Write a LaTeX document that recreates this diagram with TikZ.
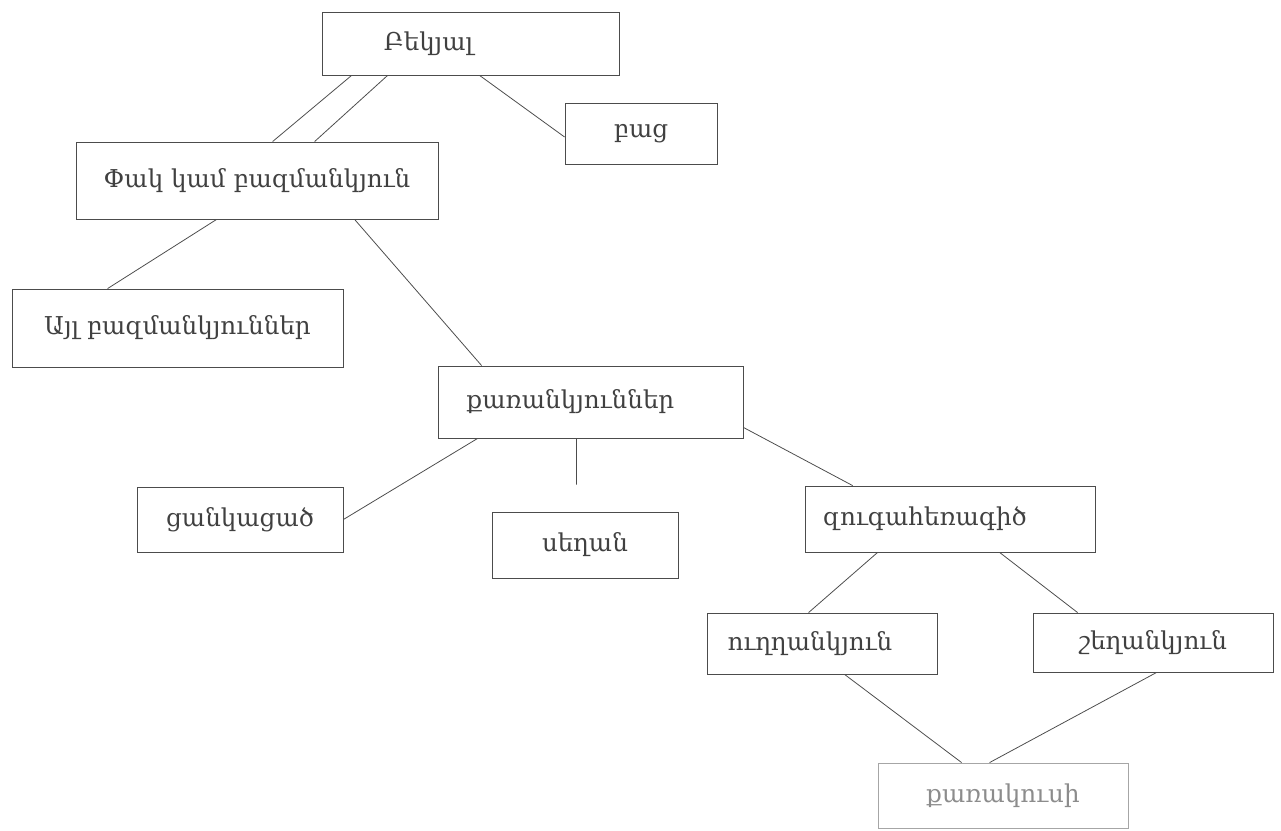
\documentclass[tikz,border=0pt]{standalone}
\usepackage{fontspec}
\setmainfont{DejaVu Serif}
\usetikzlibrary{calc}

\tikzset{
  box/.style={draw=black!70, line width=0.5pt, inner sep=0pt, text=black!75,
    font=\fontsize{14}{17}\selectfont},
  link/.style={draw=black!70, line width=0.45pt}
}

\begin{document}
\begin{tikzpicture}[x=0.02cm, y=-0.02cm]
    \useasboundingbox (0,0) rectangle (1281,831);

    % top level
    \node[box, minimum width=5.94cm, minimum height=1.26cm] (bek) at (470.5,43.5) {\hspace*{-1.68cm}Բեկյալ};
    \node[box, minimum width=3.04cm, minimum height=1.22cm] (bac) at (641,133.5) {բաց};
    \node[box, minimum width=7.24cm, minimum height=1.54cm] (pak) at (257,180.5) {Փակ կամ բազմանկյուն};

    % polygons
    \node[box, minimum width=6.62cm, minimum height=1.56cm] (ayl) at (177.5,328) {Այլ բազմանկյուններ};
    \node[box, minimum width=6.10cm, minimum height=1.44cm] (qar) at (590.5,402) {\hspace*{-0.8cm}քառանկյուններ};

    % quadrilaterals
    \node[box, minimum width=4.12cm, minimum height=1.30cm] (cank) at (240,519.5) {ցանկացած};
    \node[box, minimum width=3.72cm, minimum height=1.32cm] (segh) at (585,545) {սեղան};
    \node[box, minimum width=5.80cm, minimum height=1.32cm] (zug) at (950,519) {\hspace*{-1.0cm}զուգահեռագիծ};

    % parallelograms
    \node[box, minimum width=4.60cm, minimum height=1.22cm] (ugh) at (822,643.5) {\hspace*{-0.48cm}ուղղանկյուն};
    \node[box, minimum width=4.80cm, minimum height=1.18cm] (shegh) at (1153,642.5) {շեղանկյուն};
    \node[box, draw=black!35, text=black!45, minimum width=5.00cm, minimum height=1.30cm] (qarak) at (1003,795.5) {քառակուսի};

    % links
    \draw[link] ($(bek.south west)+(30,0)$) -- ($(pak.north west)+(197,0)$);
    \draw[link] ($(bek.south west)+(66,0)$) -- ($(pak.north west)+(239,0)$);
    \draw[link] ($(bek.south west)+(158,0)$) -- ($(bac.west)+(0,3.5)$);
    \draw[link] ($(pak.south west)+(141,0)$) -- ($(ayl.north west)+(96,0)$);
    \draw[link] ($(pak.south west)+(279,0)$) -- ($(qar.north west)+(44,0)$);
    \draw[link] ($(qar.south west)+(40,0)$) -- (cank.east);
    \draw[link, shorten >=0.54cm] ($(qar.south west)+(139,0)$) -- ($(segh.north west)+(85,0)$);
    \draw[link] ($(qar.south east)+(0,-11)$) -- ($(zug.north west)+(48,0)$);
    \draw[link] ($(zug.south west)+(73,0)$) -- ($(ugh.north west)+(102,0)$);
    \draw[link] ($(zug.south west)+(195,0)$) -- ($(shegh.north west)+(45,0)$);
    \draw[link] ($(ugh.south west)+(138,0)$) -- ($(qarak.north west)+(84,0)$);
    \draw[link] ($(shegh.south west)+(124,0)$) -- ($(qarak.north west)+(112,0)$);
\end{tikzpicture}
\end{document}
